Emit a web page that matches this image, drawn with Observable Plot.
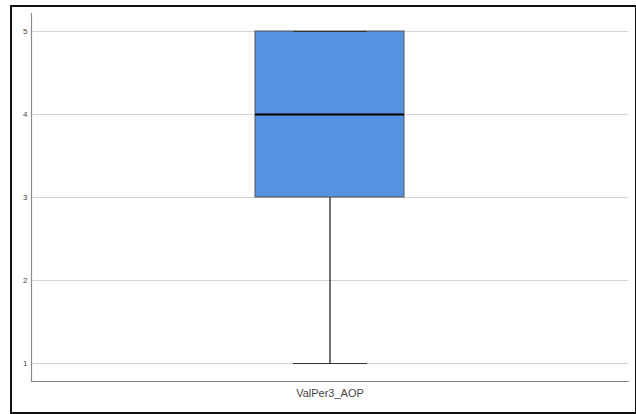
<!DOCTYPE html>
<html><head><meta charset="utf-8">
<script src="https://cdn.jsdelivr.net/npm/d3@7"></script>
<script src="https://cdn.jsdelivr.net/npm/@observablehq/plot@0.6"></script>
<style>
body{margin:0;background:#fff;font-family:"Liberation Sans",Arial,sans-serif;}
#wrap{position:relative;width:636px;height:414px;}
#border{position:absolute;left:10px;top:5px;width:623px;height:405px;border:2px solid #111;}
#chart{position:absolute;left:0;top:0;}
</style></head>
<body><div id="wrap"><div id="border"></div><div id="chart"></div></div>
<script>
const categories = ["ValPer3_AOP"];
const minVals = [1];
const q1Vals = [3];
const medianVals = [4];
const q3Vals = [5];
const maxVals = [5];
const yTicks = [1, 2, 3, 4, 5];

const data = categories.map((c, i) => ({
  cat: c, min: minVals[i], q1: q1Vals[i], median: medianVals[i], q3: q3Vals[i], max: maxVals[i]
}));

const chart = Plot.plot({
  width: 636,
  height: 414,
  marginLeft: 31,
  marginRight: 8,
  marginTop: 13,
  marginBottom: 33,
  style: {fontFamily: "Liberation Sans, Arial, sans-serif", background: "transparent"},
  x: {domain: categories, padding: 0.6, label: null},
  y: {domain: [1, 5], range: [363, 31], label: null},
  marks: [
    Plot.gridY(yTicks, {stroke: "#d4d4d4", strokeOpacity: 1, strokeWidth: 1.2}),
    Plot.frame({anchor: "left", stroke: "#8a8a8a", strokeWidth: 1.2}),
    Plot.frame({anchor: "bottom", stroke: "#8a8a8a", strokeWidth: 1.2}),
    Plot.axisY(yTicks, {tickSize: 0, tickPadding: 4, fontSize: 8, fill: "#444", label: null, tickFormat: d3.format("d")}),
    Plot.axisX({tickSize: 0, tickPadding: 8, fontSize: 11, fill: "#444", label: null}),
    Plot.ruleX(data, {x: "cat", y1: "min", y2: "q1", stroke: "#111", strokeWidth: 1.2}),
    Plot.ruleX(data, {x: "cat", y1: "q3", y2: "max", stroke: "#111", strokeWidth: 1.2}),
    Plot.tickY(data, {x: "cat", y: "min", stroke: "#333", strokeWidth: 1.2, insetLeft: 38, insetRight: 37}),
    Plot.barY(data, {x: "cat", y1: "q1", y2: "q3", fill: "#5592E2", stroke: "#555", strokeWidth: 1}),
    Plot.tickY(data, {x: "cat", y: "max", stroke: "#333", strokeWidth: 1.2, insetLeft: 38, insetRight: 37}),
    Plot.tickY(data, {x: "cat", y: "median", stroke: "#000", strokeWidth: 2.2})
  ]
});
document.getElementById("chart").appendChild(chart);
</script></body></html>
